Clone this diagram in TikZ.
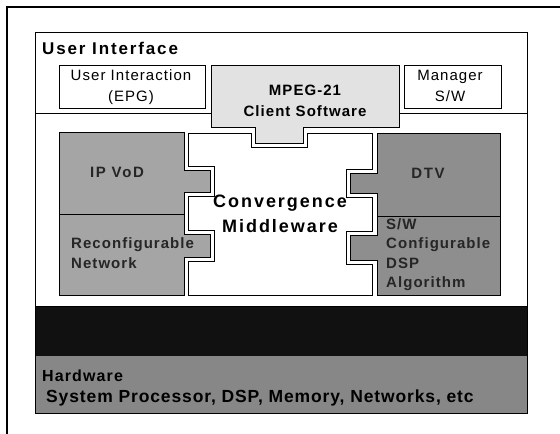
\documentclass[tikz,border=0pt]{standalone}
\usepackage{fontspec}
\setmainfont{Liberation Sans}
\newfontfamily\spaced{Liberation Sans}[LetterSpace=7]
\newfontfamily\widespaced{Liberation Sans}[LetterSpace=11]
\newfontfamily\tightspaced{Liberation Sans}[LetterSpace=5]

\definecolor{panelgray}{HTML}{A5A5A5}
\definecolor{paneldark}{HTML}{8E8E8E}
\definecolor{clientgray}{HTML}{E2E2E2}
\definecolor{osband}{HTML}{111111}
\definecolor{hwband}{HTML}{878787}

\tikzset{
  outline/.style={draw=black, line width=0.9pt, line join=miter},
  txt/.style={inner sep=0pt, font=\spaced\fontsize{15}{21}\selectfont, align=center},
  boldtxt/.style={inner sep=0pt, font=\spaced\bfseries\fontsize{15}{20}\selectfont, text=black!85},
}

\begin{document}
\begin{tikzpicture}[x=1pt, y=-1pt]
  \useasboundingbox (0,0) rectangle (560,434);
  \fill[white] (0,0) rectangle (560,434);

  % outer page frame
  \draw[line width=1.3pt] (7,434) -- (7,7) -- (560,7);

  % main frame
  \draw[outline] (35,32) rectangle (527,413);

  % user interface layer boxes
  \draw[outline] (59,65) rectangle (205,108);
  \draw[outline] (404,65) rectangle (501,108);
  \draw[outline] (35,113) -- (211,113);
  \draw[outline] (399,113) -- (527,113);

  % MPEG-21 client software, with its tab
  \draw[outline, fill=clientgray]
    (211,65) -- (399,65) -- (399,127) -- (303,127) -- (303,143)
    -- (255,143) -- (255,127) -- (211,127) -- cycle;

  % convergence middleware with notches
  \draw[outline, fill=white]
    (188,133) -- (251,133) -- (251,147) -- (307,147) -- (307,133)
    -- (372,133) -- (372,169) -- (346,169) -- (346,197) -- (372,197)
    -- (372,231) -- (346,231) -- (346,264) -- (372,264) -- (372,295)
    -- (188,295) -- (188,261) -- (214,261) -- (214,230) -- (188,230)
    -- (188,196) -- (214,196) -- (214,166) -- (188,166) -- cycle;

  % left modules
  \draw[outline, fill=panelgray]
    (59,132) -- (184,132) -- (184,170) -- (210,170) -- (210,192)
    -- (184,192) -- (184,214) -- (59,214) -- cycle;
  \draw[outline, fill=panelgray]
    (59,214) -- (184,214) -- (184,234) -- (210,234) -- (210,257)
    -- (184,257) -- (184,295) -- (59,295) -- cycle;

  % right modules
  \draw[outline, fill=paneldark]
    (377,133) -- (500,133) -- (500,216) -- (377,216) -- (377,193)
    -- (350,193) -- (350,173) -- (377,173) -- cycle;
  \draw[outline, fill=paneldark]
    (377,216) -- (500,216) -- (500,295) -- (377,295) -- (377,260)
    -- (350,260) -- (350,235) -- (377,235) -- cycle;

  % lower layers
  \fill[osband] (35,306) rectangle (527,356);
  \fill[hwband] (35,356) rectangle (527,413);
  \draw[outline] (35,306) rectangle (527,413);

  % labels
  \node[anchor=base west, inner sep=0pt, font=\widespaced\bfseries\fontsize{17}{18}\selectfont]
    (ui) at (42,54) {User Interface};
  \node[txt] (epg) at (131,87) {User Interaction\\(EPG)};
  \node[txt] (mgr) at (450,86) {Manager\\S/W};
  \node[txt, font=\spaced\bfseries\fontsize{15}{21}\selectfont] (mpeg) at (305,101)
    {MPEG-21\\Client Software};
  \node[boldtxt, font=\widespaced\bfseries\fontsize{15}{20}\selectfont] (ipvod) at (117,172) {IP VoD};
  \node[boldtxt, font=\widespaced\bfseries\fontsize{15}{20}\selectfont] (dtv) at (428,173) {DTV};
  \node[boldtxt, anchor=west, align=left] (net) at (71,253.5)
    {Reconfigurable\\Network};
  \node[boldtxt, anchor=west, align=left, font=\spaced\bfseries\fontsize{15}{19.5}\selectfont]
    (dsp) at (386,254.5) {S/W\\Configurable\\DSP\\Algorithm};
  \node[inner sep=0pt, align=center, font=\widespaced\bfseries\fontsize{18}{25}\selectfont]
    (mw) at (280,213.5) {Convergence\\Middleware};
  \node[anchor=west, inner sep=0pt, text=black, font=\spaced\bfseries\fontsize{16}{18}\selectfont]
    (hw) at (42,376) {Hardware};
  \node[anchor=west, inner sep=0pt, text=black, font=\tightspaced\bfseries\fontsize{17.5}{18}\selectfont]
    (hwlist) at (46,398) {System Processor, DSP, Memory, Networks, etc};
\end{tikzpicture}
\end{document}
